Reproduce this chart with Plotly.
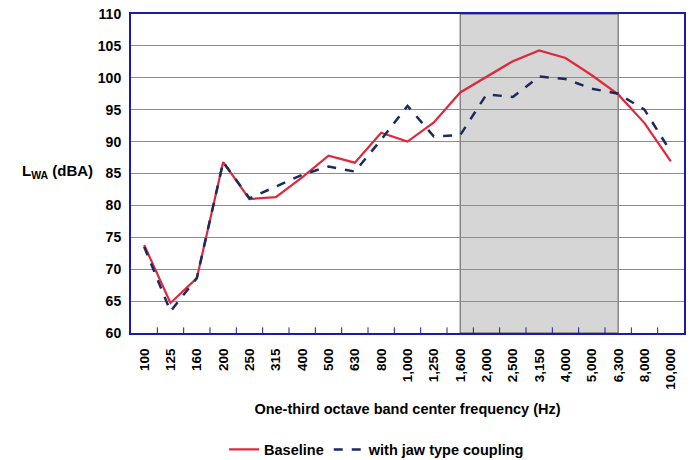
import plotly.graph_objects as go

freq_labels = ["100", "125", "160", "200", "250", "315", "400", "500", "630", "800",
               "1,000", "1,250", "1,600", "2,000", "2,500", "3,150", "4,000", "5,000",
               "6,300", "8,000", "10,000"]
baseline = [73.8, 64.7, 68.6, 86.8, 81.0, 81.3, 84.4, 87.8, 86.7, 91.4,
            90.0, 93.0, 97.7, 100.1, 102.6, 104.3, 103.1, 100.4, 97.4, 92.9, 86.9]
jaw = [73.5, 63.4, 68.6, 86.8, 81.1, 82.9, 84.8, 86.1, 85.3, 90.3,
       95.6, 90.8, 91.0, 97.4, 97.0, 100.2, 99.8, 98.3, 97.5, 95.0, 88.4]
shade_from = "1,600"
shade_to = "6,300"

idx = list(range(len(freq_labels)))
font = "Liberation Sans, Arial, sans-serif"

fig = go.Figure()
fig.add_trace(go.Scatter(x=idx, y=baseline, mode="lines", name="<b>Baseline</b>",
                         line=dict(color="#e0283c", width=2.2)))
fig.add_trace(go.Scatter(x=idx, y=jaw, mode="lines", name="<b>with jaw type coupling</b>",
                         line=dict(color="#1c2a5c", width=2.5, dash="dash")))

fig.add_shape(type="rect", xref="x", yref="y",
              x0=freq_labels.index(shade_from), x1=freq_labels.index(shade_to),
              y0=60, y1=110, fillcolor="#d6d6d6", line=dict(color="#555555", width=1),
              layer="below")

fig.update_layout(
    width=691, height=460,
    margin=dict(l=131, r=7, t=14, b=127, autoexpand=False),
    paper_bgcolor="white", plot_bgcolor="white",
    font=dict(family=font, size=14, color="black"),
    showlegend=True,
    legend=dict(orientation="h", x=0.445, xanchor="center", y=-0.315, yanchor="top",
                font=dict(size=14.5), itemwidth=30, tracegroupgap=0),
    xaxis=dict(
        automargin=False,
        range=[-0.5, len(freq_labels) - 0.5],
        tickmode="array", tickvals=idx,
        ticktext=[f"<b>{t}</b>" for t in freq_labels],
        tickangle=-90, tickfont=dict(size=13.5),
        showgrid=False, zeroline=False,
        showline=True, linecolor="#1a1ab0", linewidth=2, mirror=True,
        ticks="", ticklabelstandoff=8,
        title=dict(text="<b>One-third octave band center frequency (Hz)</b>",
                   font=dict(size=14.5), standoff=15),
    ),
    yaxis=dict(
        automargin=False,
        range=[60, 110],
        tickfont=dict(size=14),
        tickvals=list(range(60, 111, 5)),
        ticktext=[f"<b>{v}</b>" for v in range(60, 111, 5)],
        showgrid=True, gridcolor="#8c8c8c", gridwidth=1, zeroline=False,
        showline=True, linecolor="#1a1ab0", linewidth=2, mirror=True,
        ticks="", ticklabelstandoff=5,
    ),
)

# boundary tick marks along the bottom (inside the plot)
fig.add_trace(go.Scatter(x=[i + 0.5 for i in range(len(freq_labels) - 1)],
                         y=[60] * (len(freq_labels) - 1), mode="markers",
                         marker=dict(symbol="line-ns", size=8, line=dict(color="#1a1ab0", width=1)),
                         showlegend=False, hoverinfo="skip", cliponaxis=True))

fig.add_annotation(text="<b>L<sub>WA</sub> (dBA)</b>", xref="paper", yref="y",
                   x=-0.065, y=85.3, xanchor="right", yanchor="middle",
                   showarrow=False, font=dict(size=15))

fig.write_html("out.html", config={"displayModeBar": False},
               post_script="document.body.style.margin='0';document.body.style.overflow='hidden';")
